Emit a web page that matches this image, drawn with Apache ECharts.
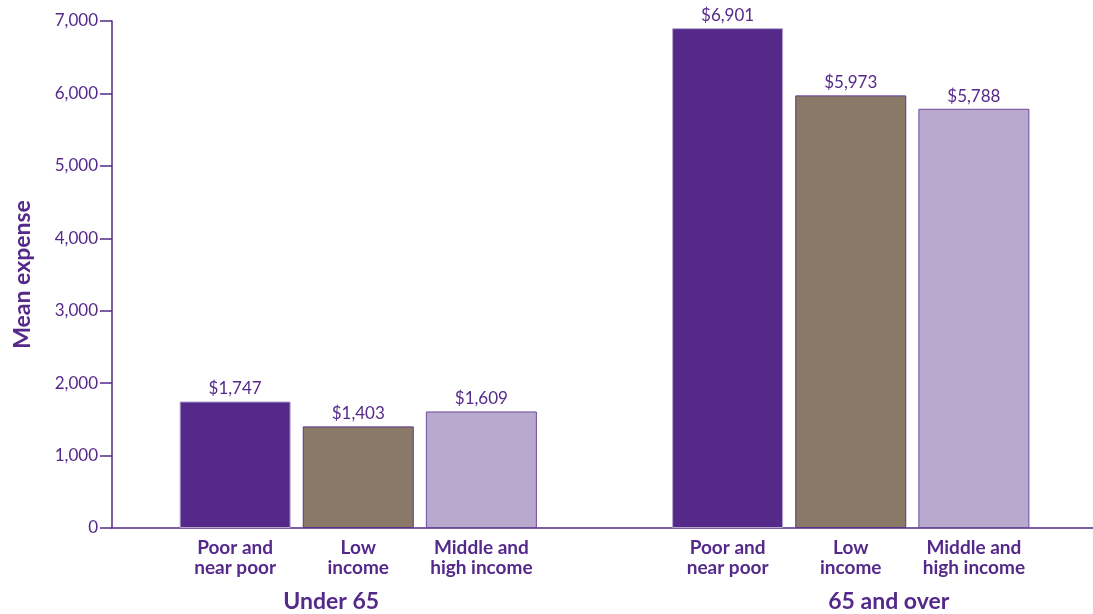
<!DOCTYPE html>
<html>
<head>
<meta charset="utf-8">
<script src="https://cdn.jsdelivr.net/npm/echarts@6/dist/echarts.min.js"></script>
<style>
html, body { margin: 0; padding: 0; background: #fff; overflow: hidden; }
#main { width: 1100px; height: 614px; }
</style>
</head>
<body>
<div id="main"></div>
<script>
// data
var incomeGroups = [ 'Poor and\nnear poor', 'Low\nincome', 'Middle and\nhigh income' ];
var ageGroups = [ 'Under 65', '65 and over' ];
var under65 = [ 1747, 1403, 1609 ];
var over65 = [ 6901, 5973, 5788 ];
var yTicks = [ 0, 1000, 2000, 3000, 4000, 5000, 6000, 7000 ];

var purple = '#54298a';
var barColors = [ '#54298a', '#8a7967', '#b9a9cf' ];
var barBorders = [ '#b9a9cf', '#5a3590', '#6a4a9c' ];

// slots: empty, 3 bars, empty, 3 bars, empty
var cats = [ '' ].concat( incomeGroups, [ '' ], incomeGroups, [ '' ] );
var groupCats = [ '', '', ageGroups[0], '', '', '', ageGroups[1], '', '' ];

function barItems( vals )
{
	return vals.map( function( v, i ){
		return { value: v, itemStyle: { color: barColors[i], borderColor: barBorders[i], borderWidth: 1 } };
	});
}
var seriesData = [ '-' ].concat( barItems( under65 ), [ '-' ], barItems( over65 ), [ '-' ] );

var groupFont = { color: purple, fontFamily: 'Lato', fontWeight: 'bold', fontSize: 23 };

var chart = echarts.init( document.getElementById( 'main' ) );
chart.setOption({
	animation: false,
	grid: { left: 112, right: 1, top: 21, bottom: 86 },
	xAxis: [
		{
			type: 'category',
			data: cats,
			boundaryGap: false,
			axisLine: { lineStyle: { color: purple, width: 1.5 } },
			axisTick: { show: false },
			axisLabel: {
				interval: 0,
				margin: 10,
				color: purple,
				fontFamily: 'Lato',
				fontWeight: 'bold',
				fontSize: 19,
				lineHeight: 20
			}
		},
		{
			type: 'category',
			data: groupCats,
			position: 'bottom',
			boundaryGap: false,
			axisLine: { show: false },
			axisTick: { show: false },
			axisLabel: {
				interval: 0,
				margin: 62,
				formatter: function( v ){
					if( v === ageGroups[0] ) return '{a|' + v + '}';
					if( v === ageGroups[1] ) return '{b|' + v + '}';
					return '';
				},
				rich: {
					// group titles are not centred under the middle bar
					a: Object.assign( { padding: [ 0, 54, 0, 0 ] }, groupFont ),
					b: Object.assign( { padding: [ 0, 0, 0, 76 ] }, groupFont )
				}
			}
		}
	],
	yAxis: {
		type: 'value',
		min: yTicks[0],
		max: yTicks[ yTicks.length - 1 ],
		interval: 1000,
		name: 'Mean expense',
		nameLocation: 'middle',
		nameGap: 78,
		nameTextStyle: { color: purple, fontFamily: 'Lato', fontWeight: 'bold', fontSize: 23 },
		axisLine: { show: true, lineStyle: { color: purple, width: 1.5 } },
		axisTick: { show: true, inside: false, length: 12, lineStyle: { color: purple, width: 1.5 } },
		splitLine: { show: false },
		axisLabel: {
			margin: 14,
			color: purple,
			fontFamily: 'Lato',
			fontSize: 17,
			formatter: function( v ){ return v.toLocaleString( 'en-US' ); }
		}
	},
	series: [
		{
			type: 'bar',
			xAxisIndex: 0,
			barWidth: 111,
			data: seriesData,
			label: {
				show: true,
				position: 'top',
				distance: 4,
				color: purple,
				fontFamily: 'Lato',
				fontSize: 17,
				formatter: function( p ){ return '$' + p.value.toLocaleString( 'en-US' ); }
			}
		}
	]
});
</script>
</body>
</html>
